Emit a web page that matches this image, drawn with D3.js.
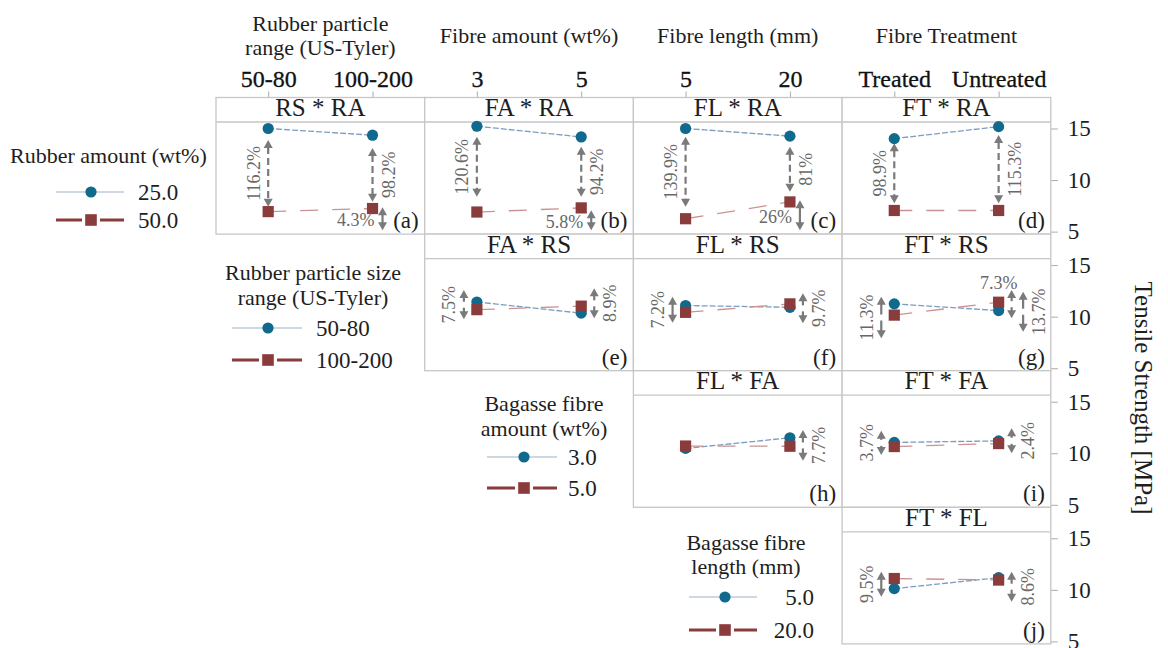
<!DOCTYPE html>
<html>
<head>
<meta charset="utf-8">
<script src="https://cdn.jsdelivr.net/npm/d3@7"></script>
<style>
  body { margin: 0; background: #fff; }
  svg { display: block; }
  text { font-family: "Liberation Serif", "Times New Roman", serif; }
</style>
</head>
<body>
<svg id="chart" width="1168" height="648"></svg>
<script>
// ---- factors shown along the top of each column ----
const factorTitles = [["Rubber particle", "range (US-Tyler)"], ["Fibre amount (wt%)"], ["Fibre length (mm)"], ["Fibre Treatment"]];
const factorLevels = [["50-80", "100-200"], ["3", "5"], ["5", "20"], ["Treated", "Untreated"]];
const strengthTicks = [5, 10, 15];

// ---- interaction panels ----
const panelIds    = ["a", "b", "c", "d", "e", "f", "g", "h", "i", "j"];
const panelTitles = ["RS * RA", "FA * RA", "FL * RA", "FT * RA", "FA * RS", "FL * RS", "FT * RS", "FL * FA", "FT * FA", "FT * FL"];
const panelRow    = [0, 0, 0, 0, 1, 1, 1, 2, 2, 3];
const panelCol    = [0, 1, 2, 3, 1, 2, 3, 2, 3, 3];

// mean tensile strength (MPa): first level of the trace factor (circles)
const firstLevelMeans = [
  [15.00, 14.35], [15.22, 14.18], [15.00, 14.26], [14.02, 15.18],
  [11.42, 10.34], [11.08, 10.91], [11.24, 10.59],
  [10.47, 11.50], [11.05, 11.20],
  [10.12, 11.18]
];
// second level of the trace factor (squares)
const secondLevelMeans = [
  [6.94, 7.24], [6.90, 7.30], [6.25, 7.88], [7.05, 7.05],
  [10.68, 11.02], [10.42, 11.24], [10.15, 11.40],
  [10.70, 10.68], [10.65, 10.94],
  [11.10, 10.95]
];

// ---- legends ----
const legendTitles = [["Rubber amount (wt%)"], ["Rubber particle size", "range (US-Tyler)"], ["Bagasse fibre", "amount (wt%)"], ["Bagasse fibre", "length (mm)"]];
const legendLevels = [["25.0", "50.0"], ["50-80", "100-200"], ["3.0", "5.0"], ["5.0", "20.0"]];

// ---- percentage-change annotations: [panel, level index, upper MPa, lower MPa, kind, label, slot, label placement]
const changeNotes = [
  ["a", 0, 13.88, 7.41, "dash", "116.2%", 0, "side"],
  ["a", 1, 13.11, 7.90, "dash", "98.2%", 0, "side"],
  ["a", 1, 7.36, 5.13, "solid", "4.3%", 0, "before"],
  ["b", 0, 14.20, 8.38, "dash", "120.6%", 0, "side"],
  ["b", 1, 13.23, 8.38, "dash", "94.2%", 0, "side"],
  ["b", 1, 7.08, 5.13, "solid", "5.8%", 0, "before"],
  ["c", 0, 14.20, 7.41, "dash", "139.9%", 0, "side"],
  ["c", 1, 13.23, 8.86, "dash", "81%", 0, "side"],
  ["c", 1, 8.05, 5.13, "solid", "26%", 0, "before"],
  ["d", 0, 13.56, 7.74, "dash", "98.9%", 0, "side"],
  ["d", 1, 14.37, 7.74, "dash", "115.3%", 0, "side"],
  ["e", 0, 12.58, 9.74, "split", "7.5%", 0, "side"],
  ["e", 1, 12.75, 9.84, "split", "8.9%", 0, "side"],
  ["f", 0, 11.93, 9.41, "solid", "7.2%", 0, "side"],
  ["f", 1, 12.26, 9.35, "split", "9.7%", 0, "side"],
  ["g", 0, 11.93, 7.90, "split", "11.3%", 0, "side"],
  ["g", 1, 12.58, 9.84, "split", "7.3%", 0, "above"],
  ["g", 1, 12.42, 8.54, "split", "13.7%", 1, "side"],
  ["h", 1, 12.25, 9.27, "split", "7.7%", 0, "side"],
  ["i", 0, 12.19, 9.83, "split", "3.7%", 0, "side"],
  ["i", 1, 12.42, 9.99, "split", "2.4%", 0, "side"],
  ["j", 0, 11.76, 9.33, "solid", "9.5%", 0, "side"],
  ["j", 1, 11.76, 8.85, "split", "8.6%", 0, "side"]
];

// ---- layout ----
const W = 1168, H = 648;
const gridLeft = 216, colW = 208.7, gridTop = 97.5, rowH = 136.6, stripH = 24.5;
const yDomain = [4.76, 15.63];

const C = {
  frame: "#c6c6c6", axis: "#aaaaaa", text: "#1e1e1e",
  blue: "#0f6a8e", blueLine: "#7d9cc2", blueLegend: "#bfcbd9",
  red: "#8a3b3b", redLine: "#c99393",
  arrow: "#7a7a7a", note: "#686868"
};

const svg = d3.select("#chart").attr("viewBox", [0, 0, W, H]);

function xScaleFor(col) {
  return d3.scalePoint()
    .domain(factorLevels[col])
    .range([gridLeft + col * colW, gridLeft + (col + 1) * colW])
    .padding(0.5);
}
function yScaleFor(row) {
  const top = gridTop + row * rowH + stripH;
  const bottom = gridTop + (row + 1) * rowH;
  return d3.scaleLinear().domain(yDomain).range([bottom, top]);
}

// ---- column headings and top axes ----
factorTitles.forEach((lines, col) => {
  const cx = gridLeft + (col + 0.5) * colW;
  const ys = lines.length === 2 ? [23, 47] : [35];
  lines.forEach((t, k) => {
    svg.append("text").attr("x", cx).attr("y", ys[k])
      .attr("text-anchor", "middle").attr("dominant-baseline", "central")
      .attr("font-size", 22).attr("fill", C.text).text(t);
  });
  const ax = svg.append("g").attr("transform", `translate(0,${gridTop})`)
    .call(d3.axisTop(xScaleFor(col)).tickSize(6).tickSizeOuter(0).tickPadding(5));
  ax.select(".domain").remove();
  ax.selectAll(".tick line").attr("stroke", C.axis);
  ax.selectAll(".tick text")
    .attr("font-size", 24).attr("fill", "#111")
    .attr("stroke", "#111").attr("stroke-width", 0.3)
    .style("font-family", '"Liberation Serif", "Times New Roman", serif');
});

// ---- right axes, one per row ----
for (let row = 0; row < 4; row++) {
  const ax = svg.append("g").attr("transform", `translate(${gridLeft + 4 * colW},0)`)
    .call(d3.axisRight(yScaleFor(row)).tickValues(strengthTicks).tickSize(7).tickPadding(10));
  ax.select(".domain").remove();
  ax.selectAll(".tick line").attr("stroke", C.axis);
  ax.selectAll(".tick text").attr("font-size", 23).attr("fill", C.text)
    .style("font-family", '"Liberation Serif", "Times New Roman", serif');
}
svg.append("text")
  .attr("transform", `translate(1143,398) rotate(90)`)
  .attr("text-anchor", "middle").attr("dominant-baseline", "central")
  .attr("font-size", 25).attr("fill", C.text)
  .text("Tensile Strength [MPa]");

// ---- arrows ----
function head(g, x, tipY, dir) { // dir -1 points up, +1 points down
  const L = 8, hw = 4.5;
  g.append("path")
    .attr("d", `M${x},${tipY} L${x - hw},${tipY - dir * L} L${x + hw},${tipY - dir * L} Z`)
    .attr("fill", C.arrow);
}
function shaft(g, x, y1, y2, dashed) {
  if (Math.abs(y2 - y1) < 0.5) return;
  g.append("line").attr("x1", x).attr("x2", x).attr("y1", y1).attr("y2", y2)
    .attr("stroke", C.arrow).attr("stroke-width", 2.2)
    .attr("stroke-dasharray", dashed ? "7,4" : null);
}

// ---- panels ----
const panelLookup = {};
panelIds.forEach((id, p) => { panelLookup[id] = p; });

panelIds.forEach((id, p) => {
  const row = panelRow[p], col = panelCol[p];
  const xs = xScaleFor(col), ys = yScaleFor(row);
  const levels = factorLevels[col];
  const left = gridLeft + col * colW, top = gridTop + row * rowH;
  const g = svg.append("g");

  g.append("rect").attr("x", left).attr("y", top).attr("width", colW).attr("height", rowH)
    .attr("fill", "#fff").attr("stroke", C.frame).attr("stroke-width", 1.3);
  g.append("line").attr("x1", left).attr("x2", left + colW)
    .attr("y1", top + stripH).attr("y2", top + stripH)
    .attr("stroke", C.frame).attr("stroke-width", 1.3);
  g.append("text").attr("x", left + colW / 2).attr("y", top + stripH - 6)
    .attr("text-anchor", "middle").attr("font-size", 25).attr("fill", C.text)
    .text(panelTitles[p]);

  const line = d3.line().x((d, i) => xs(levels[i])).y(d => ys(d));
  g.append("path").attr("d", line(firstLevelMeans[p])).attr("fill", "none")
    .attr("stroke", C.blueLine).attr("stroke-width", 1.3).attr("stroke-dasharray", "6,2");
  g.append("path").attr("d", line(secondLevelMeans[p])).attr("fill", "none")
    .attr("stroke", C.redLine).attr("stroke-width", 1.3).attr("stroke-dasharray", "18,14");

  g.selectAll("circle.pt").data(firstLevelMeans[p]).join("circle")
    .attr("cx", (d, i) => xs(levels[i])).attr("cy", d => ys(d)).attr("r", 5.6)
    .attr("fill", C.blue);
  g.selectAll("rect.pt").data(secondLevelMeans[p]).join("rect")
    .attr("x", (d, i) => xs(levels[i]) - 5.6).attr("y", d => ys(d) - 5.6)
    .attr("width", 11.2).attr("height", 11.2).attr("fill", C.red);

  g.append("text").attr("x", left + colW - 6).attr("y", top + rowH - 6)
    .attr("text-anchor", "end").attr("font-size", 23).attr("fill", C.text)
    .text(`(${id})`);
});

// ---- percentage annotations ----
const noteLayer = svg.append("g");
changeNotes.forEach(([id, lvl, hiV, loV, kind, label, slot, place]) => {
  const p = panelLookup[id];
  const xs = xScaleFor(panelCol[p]), ys = yScaleFor(panelRow[p]);
  const px = xs(factorLevels[panelCol[p]][lvl]);
  const side = lvl === 0 ? -1 : 1;
  let ax;
  if (kind === "dash") ax = px;
  else if (place === "before") ax = px + 10;
  else ax = px + side * (13 + slot * 11.5);
  const yHi = ys(hiV), yLo = ys(loV), mid = (yHi + yLo) / 2;

  if (kind === "split") {
    const gap = 3;
    shaft(noteLayer, ax, mid - gap, yHi + 7);
    shaft(noteLayer, ax, mid + gap, yLo - 7);
  } else {
    shaft(noteLayer, ax, yHi + 7, yLo - 7, kind === "dash");
  }
  head(noteLayer, ax, yHi, -1);
  head(noteLayer, ax, yLo, 1);

  const t = noteLayer.append("text").attr("font-size", 18).attr("fill", C.note).text(label);
  if (place === "side") {
    const lx = ax + (side < 0 ? -14.5 : 16);
    t.attr("transform", `translate(${lx},${mid}) rotate(-90)`)
      .attr("text-anchor", "middle").attr("dominant-baseline", "central");
  } else if (place === "before") {
    t.attr("x", ax - 8).attr("y", mid + 1.5)
      .attr("text-anchor", "end").attr("dominant-baseline", "central");
  } else {
    t.attr("x", px).attr("y", yHi - 7)
      .attr("text-anchor", "middle").attr("dominant-baseline", "central");
  }
});

// ---- legends ----
const legendLayout = [
  { titleX: 10, titleAnchor: "start", titleY: [155], itemY: [192, 220], markX: 91, lineX: [56, 124], textX: 138, textAnchor: "start" },
  { titleX: 313, titleAnchor: "middle", titleY: [272, 297], itemY: [328, 360], markX: 268, lineX: [232, 302], textX: 316, textAnchor: "start" },
  { titleX: 544, titleAnchor: "middle", titleY: [403, 428], itemY: [457, 488], markX: 524, lineX: [487, 557], textX: 568, textAnchor: "start" },
  { titleX: 746, titleAnchor: "middle", titleY: [542, 566], itemY: [597, 630], markX: 725, lineX: [689, 757], textX: 814, textAnchor: "end" }
];
legendTitles.forEach((lines, k) => {
  const L = legendLayout[k];
  const g = svg.append("g");
  lines.forEach((t, j) => {
    g.append("text").attr("x", L.titleX).attr("y", L.titleY[j])
      .attr("text-anchor", L.titleAnchor).attr("dominant-baseline", "central")
      .attr("font-size", 22).attr("fill", C.text).text(t);
  });
  // first level: thin pale line with circle
  const y0 = L.itemY[0];
  g.append("line").attr("x1", L.lineX[0]).attr("x2", L.lineX[1]).attr("y1", y0).attr("y2", y0)
    .attr("stroke", C.blueLegend).attr("stroke-width", 1.6);
  g.append("circle").attr("cx", L.markX).attr("cy", y0).attr("r", 5.6).attr("fill", C.blue);
  // second level: heavy dark line with square
  const y1 = L.itemY[1];
  g.append("line").attr("x1", L.lineX[0]).attr("x2", L.markX - 9).attr("y1", y1).attr("y2", y1)
    .attr("stroke", C.red).attr("stroke-width", 3);
  g.append("line").attr("x1", L.markX + 9).attr("x2", L.lineX[1]).attr("y1", y1).attr("y2", y1)
    .attr("stroke", C.red).attr("stroke-width", 3);
  g.append("rect").attr("x", L.markX - 5.8).attr("y", y1 - 5.8).attr("width", 11.6).attr("height", 11.6)
    .attr("fill", C.red);
  legendLevels[k].forEach((t, j) => {
    g.append("text").attr("x", L.textX).attr("y", L.itemY[j])
      .attr("text-anchor", L.textAnchor).attr("dominant-baseline", "central")
      .attr("font-size", 23).attr("fill", C.text).text(t);
  });
});
</script>
</body>
</html>
